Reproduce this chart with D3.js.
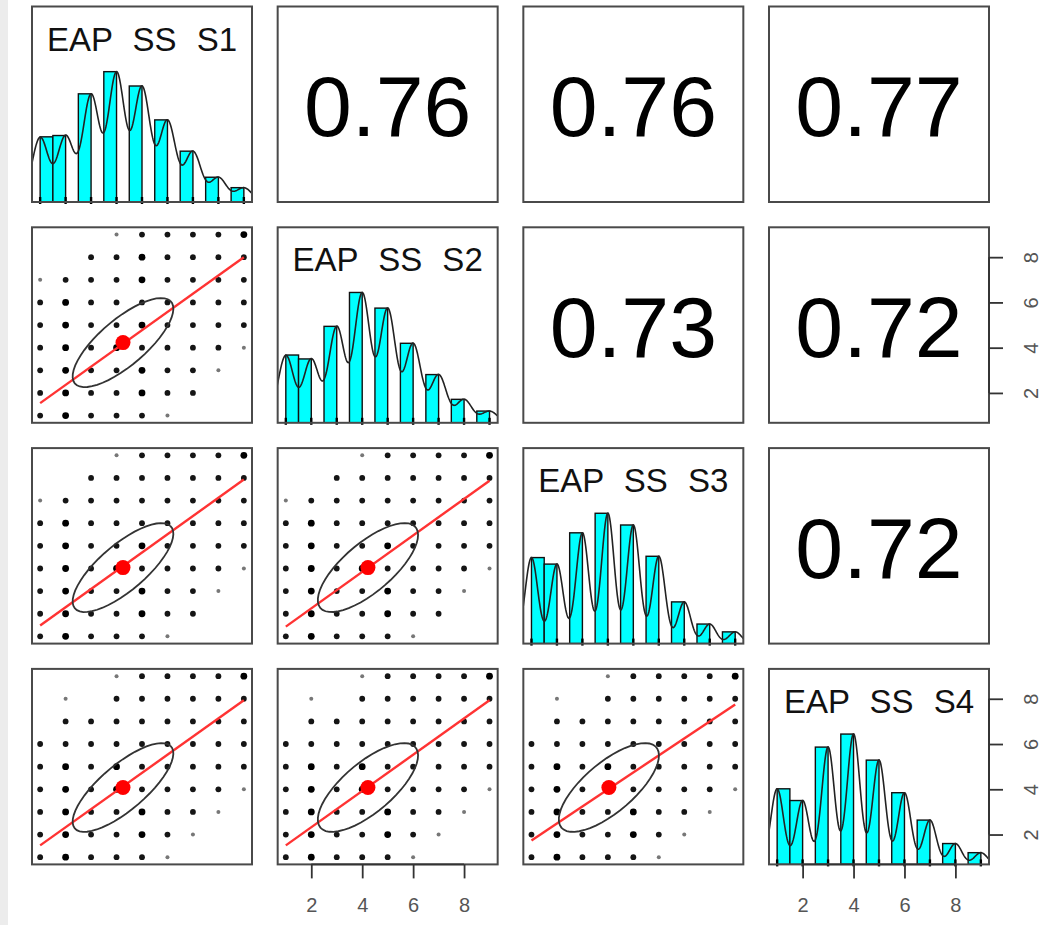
<!DOCTYPE html>
<html>
<head>
<meta charset="utf-8">
<script src="https://cdn.jsdelivr.net/npm/d3@7"></script>
<style>
  body { margin: 0; background: #fff; }
  svg text { font-family: "Liberation Sans", Arial, Helvetica, sans-serif; }
</style>
</head>
<body>
<svg id="chart" width="1047" height="925"></svg>
<script>
// ---- data ---------------------------------------------------------------
const varNames = ["EAP SS S1", "EAP SS S2", "EAP SS S3", "EAP SS S4"];
const scoreLevels = [1, 2, 3, 4, 5, 6, 7, 8, 9];

// relative frequency of each score level (tallest bar = 100)
const freqS1 = [50, 51, 83, 100, 89, 63, 39, 19, 11];
const freqS2 = [52, 49, 74, 100, 88, 61, 37, 18, 9];
const freqS3 = [66, 61, 85, 100, 91, 67, 32, 15, 9];
const freqS4 = [58, 49, 90, 100, 80, 55, 34, 16, 9];
const freqs = [freqS1, freqS2, freqS3, freqS4];

// kernel bandwidth of the density curve for each variable
const bandwidths = [0.32, 0.31, 0.25, 0.25];

// variable pairs (x, y) and their correlations
const pairIdx = [[0, 1], [0, 2], [0, 3], [1, 2], [1, 3], [2, 3]];
const corrValues = [0.76, 0.76, 0.77, 0.73, 0.72, 0.72];
const corrLabels = ["0.76", "0.76", "0.77", "0.73", "0.72", "0.72"];

// smoothed fit line: fitted y at x = 1 and at x = 9
const smoothAt1 = [1.55, 1.48, 1.52, 1.43, 1.52, 1.74];
const smoothAt9 = [8.00, 7.93, 7.93, 7.88, 7.93, 7.75];

// occupied score cells (rows: y = 9 .. 1, columns: x = 1 .. 9)
// 0 empty, 1 sparse, 2 regular, 3 dense
const cellsS1S2 = ["000122223", "002232222", "122232222", "232222222", "232232222", "232322221", "232232210", "232232200", "232221000"];
const cellsS1S3 = ["000122223", "002222222", "122222222", "232222222", "232232222", "232322221", "232232210", "232232200", "232221000"];
const cellsS1S4 = ["000122223", "010222222", "022222222", "222222222", "232322222", "232322221", "232232210", "232232100", "232221000"];
const cellsS2S3 = ["000122223", "002222222", "122222222", "232222222", "232232222", "232322221", "232232210", "232232200", "232221000"];
const cellsS2S4 = ["000122223", "010222222", "022222222", "222222222", "232322222", "232322221", "232232210", "232232100", "232221000"];
const cellsS3S4 = ["000122223", "010222222", "022222222", "222222222", "232322222", "232322221", "232232210", "232232100", "232221000"];
const cellGrids = [cellsS1S2, cellsS1S3, cellsS1S4, cellsS2S3, cellsS2S4, cellsS3S4];

const axisTicks = [2, 4, 6, 8];

// ---- layout -------------------------------------------------------------
const panelW = 220, panelH = 195.5;
const colX = [32, 277.67, 523.33, 769];
const rowY = [6.5, 227.3, 448.1, 668.9];
const domain = [0.68, 9.32];

const svg = d3.select("#chart");

// faint strip along the left edge
svg.append("rect").attr("x", 0).attr("y", 0).attr("width", 8).attr("height", 925)
  .attr("fill", "#ececec");

const defs = svg.append("defs");

function panelScales(r, c) {
  const x = d3.scaleLinear().domain(domain).range([colX[c], colX[c] + panelW]);
  const y = d3.scaleLinear().domain(domain).range([rowY[r] + panelH, rowY[r]]);
  return { x, y };
}

function clipFor(r, c) {
  const id = `clip-${r}-${c}`;
  defs.append("clipPath").attr("id", id).append("rect")
    .attr("x", colX[c]).attr("y", rowY[r]).attr("width", panelW).attr("height", panelH);
  return `url(#${id})`;
}

function stats(freq) {
  const n = d3.sum(freq);
  const mean = d3.sum(freq, (f, i) => f * scoreLevels[i]) / n;
  const v = d3.sum(freq, (f, i) => f * (scoreLevels[i] - mean) ** 2) / n;
  return { mean, sd: Math.sqrt(v) };
}
const varStats = freqs.map(stats);

// ---- diagonal: histogram + density + rug --------------------------------
varNames.forEach((name, k) => {
  const { x } = panelScales(k, k);
  const yh = d3.scaleLinear().domain([0, 1.5]).range([rowY[k] + panelH, rowY[k]]);
  const g = svg.append("g");
  const clip = clipFor(k, k);
  const fmax = d3.max(freqs[k]);

  // right-closed bins of width 0.5; the first bin also holds its lower edge
  const bars = scoreLevels.map((v, i) => ({
    x0: i === 0 ? v : v - 0.5,
    x1: i === 0 ? v + 0.5 : v,
    h: freqs[k][i] / fmax
  }));
  g.append("g").attr("clip-path", clip).selectAll("rect").data(bars).join("rect")
    .attr("x", d => x(d.x0)).attr("width", d => x(d.x1) - x(d.x0))
    .attr("y", d => yh(d.h)).attr("height", d => yh(0) - yh(d.h))
    .attr("fill", "#00ffff").attr("stroke", "#111").attr("stroke-width", 1.4);

  // Gaussian kernel density, scaled so its peak is 1
  const bw = bandwidths[k];
  const gridX = d3.range(1 - 3 * bw, 9 + 3 * bw + 1e-9, 0.02);
  const dens = gridX.map(t => d3.sum(freqs[k], (f, i) =>
    f * Math.exp(-0.5 * ((t - scoreLevels[i]) / bw) ** 2)));
  const dmax = d3.max(dens);
  g.append("path").attr("clip-path", clip)
    .datum(gridX.map((t, i) => [t, dens[i] / dmax]))
    .attr("d", d3.line().x(d => x(d[0])).y(d => yh(d[1])))
    .attr("fill", "none").attr("stroke", "#222").attr("stroke-width", 1.6);

  // rug
  g.selectAll("line.rug").data(scoreLevels).join("line")
    .attr("x1", d => x(d)).attr("x2", d => x(d))
    .attr("y1", rowY[k] + panelH + 2).attr("y2", rowY[k] + panelH - 5)
    .attr("stroke", "#000").attr("stroke-width", 2.4);

  // variable name
  g.append("text")
    .attr("x", colX[k] + panelW / 2).attr("y", rowY[k] + 44)
    .attr("text-anchor", "middle").attr("font-size", 33)
    .attr("word-spacing", "11px").attr("fill", "#111")
    .text(name);
});

// ---- upper triangle: correlations ---------------------------------------
pairIdx.forEach(([a, b], p) => {
  const r = a, c = b;
  svg.append("text")
    .attr("x", colX[c] + panelW / 2)
    .attr("y", rowY[r] + panelH / 2 + 32)
    .attr("text-anchor", "middle").attr("font-size", 86).attr("fill", "#000")
    .text(corrLabels[p]);
});

// ---- lower triangle: scatter, smoother, mean and correlation ellipse -----
pairIdx.forEach(([a, b], p) => {
  const r = b, c = a;
  const { x, y } = panelScales(r, c);
  const g = svg.append("g").attr("clip-path", clipFor(r, c));

  const cells = [];
  cellGrids[p].forEach((row, ri) => {
    row.split("").forEach((ch, ci) => {
      const w = +ch;
      if (w > 0) cells.push({ xv: scoreLevels[ci], yv: scoreLevels[8 - ri], w });
    });
  });
  const rad = [0, 2.0, 2.9, 3.4], col = ["", "#777", "#151515", "#000"];
  g.selectAll("circle.pt").data(cells).join("circle")
    .attr("cx", d => x(d.xv)).attr("cy", d => y(d.yv))
    .attr("r", d => rad[d.w]).attr("fill", d => col[d.w]);

  // smoothed fit
  g.append("line")
    .attr("x1", x(1)).attr("y1", y(smoothAt1[p]))
    .attr("x2", x(9)).attr("y2", y(smoothAt9[p]))
    .attr("stroke", "#ff3333").attr("stroke-width", 2.4);

  // correlation ellipse around the means
  const sx = varStats[a], sy = varStats[b], rho = corrValues[p];
  const a1 = Math.sqrt(1 + rho), a2 = Math.sqrt(1 - rho), th = Math.SQRT1_2;
  const ell = d3.range(0, 52).map(k => {
    const t = k * 2 * Math.PI / 51, cs = Math.cos(t), sn = Math.sin(t);
    return [sx.mean + sx.sd * th * (a1 * cs - a2 * sn),
            sy.mean + sy.sd * th * (a1 * cs + a2 * sn)];
  });
  g.append("path").datum(ell)
    .attr("d", d3.line().x(d => x(d[0])).y(d => y(d[1])))
    .attr("fill", "none").attr("stroke", "#333").attr("stroke-width", 1.8);

  g.append("circle").attr("cx", x(sx.mean)).attr("cy", y(sy.mean))
    .attr("r", 7.5).attr("fill", "#ff0000");
});

// ---- panel frames -------------------------------------------------------
for (let r = 0; r < 4; r++) for (let c = 0; c < 4; c++) {
  svg.append("rect").attr("x", colX[c]).attr("y", rowY[r])
    .attr("width", panelW).attr("height", panelH)
    .attr("fill", "none").attr("stroke", "#4a4a4a").attr("stroke-width", 2);
}

// ---- axes ---------------------------------------------------------------
[1, 3].forEach(c => {
  const { x } = panelScales(3, c);
  const yb = rowY[3] + panelH;
  const ax = svg.append("g").attr("transform", `translate(0,${yb})`)
    .call(d3.axisBottom(x).tickValues(axisTicks).tickSize(14).tickFormat(d3.format("d")));
  ax.select(".domain").remove();
  ax.selectAll(".tick line").attr("stroke", "#333").attr("stroke-width", 1.8);
  ax.selectAll(".tick text").attr("y", 33).attr("dy", "0.71em")
    .attr("font-size", 20).attr("fill", "#555")
    .style("font-family", "'Liberation Sans', Arial, sans-serif");
  ax.append("line").attr("x1", x(axisTicks[0])).attr("x2", x(axisTicks[3]))
    .attr("stroke", "#333").attr("stroke-width", 1.8);
});

[1, 3].forEach(r => {
  const { y } = panelScales(r, 3);
  const xr = colX[3] + panelW;
  const ax = svg.append("g").attr("transform", `translate(${xr},0)`)
    .call(d3.axisRight(y).tickValues(axisTicks).tickSize(14).tickFormat(d3.format("d")));
  ax.select(".domain").remove();
  ax.selectAll(".tick line").attr("stroke", "#333").attr("stroke-width", 1.8);
  ax.selectAll(".tick text").attr("x", 0).attr("dy", 0)
    .attr("transform", "translate(49,0) rotate(-90)")
    .attr("text-anchor", "middle")
    .attr("font-size", 20).attr("fill", "#555")
    .style("font-family", "'Liberation Sans', Arial, sans-serif");
  ax.append("line").attr("y1", y(axisTicks[0])).attr("y2", y(axisTicks[3]))
    .attr("stroke", "#333").attr("stroke-width", 1.8);
});
</script>
</body>
</html>
